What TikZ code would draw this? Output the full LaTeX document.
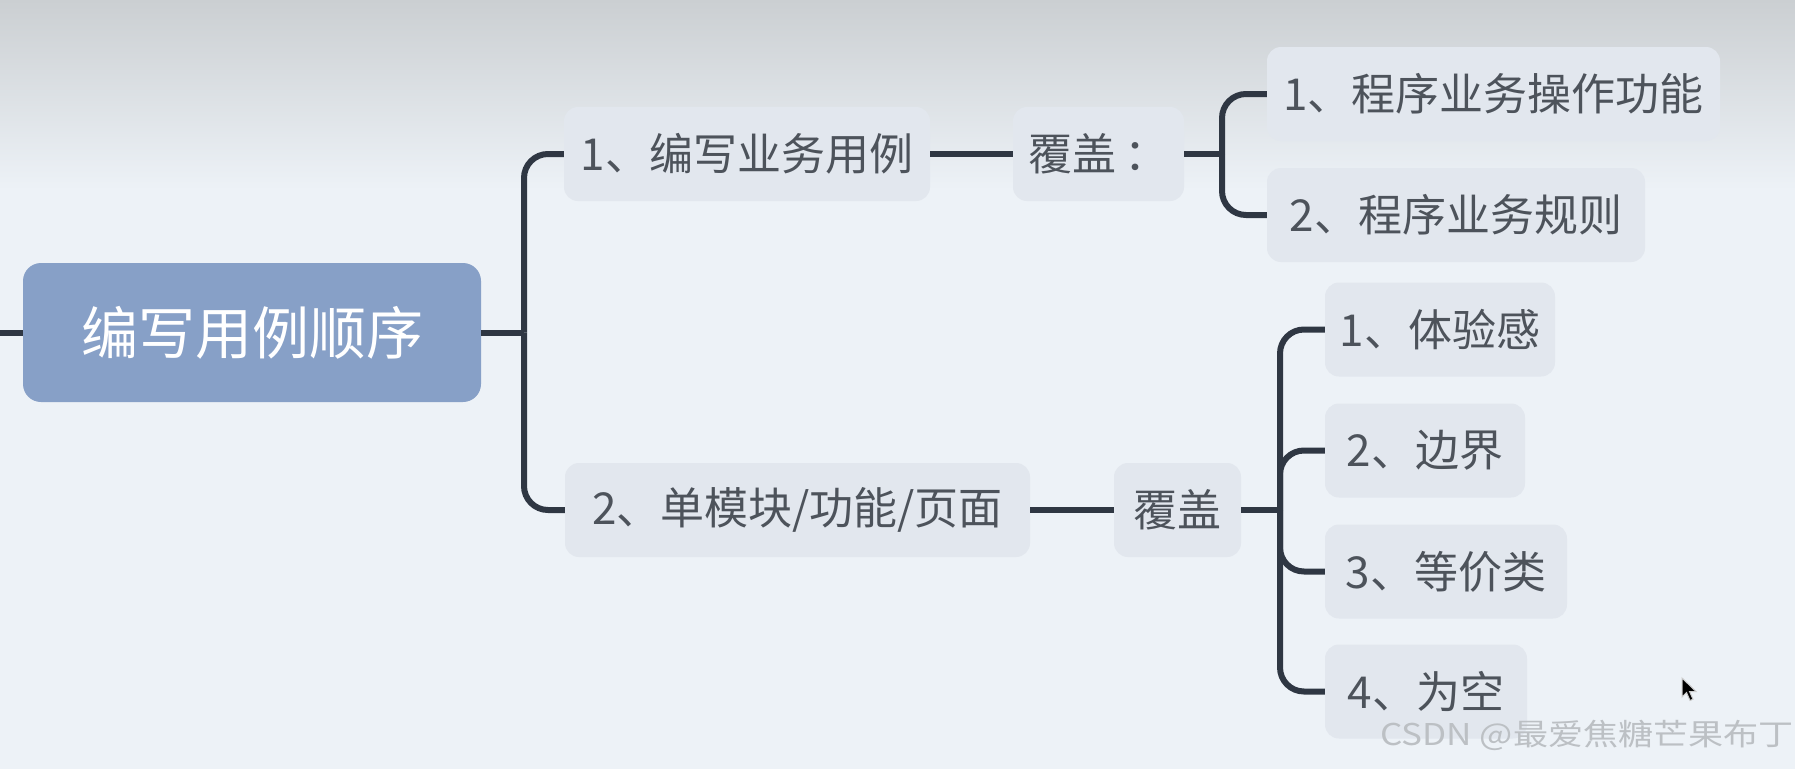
\documentclass[tikz,border=0pt]{standalone}
\usepackage{fontspec}
\setmainfont{Noto Sans CJK SC}
\usepackage{graphicx}
\definecolor{bgc}{HTML}{EDF2F7}
\definecolor{topc}{HTML}{CBCFD2}
\definecolor{boxc}{HTML}{E2E7EE}
\definecolor{rootc}{HTML}{87A0C7}
\definecolor{linec}{HTML}{2F3743}
\definecolor{txtc}{HTML}{4D535B}
\definecolor{wmc}{HTML}{BCC0C4}
\begin{document}
\begin{tikzpicture}[x=1pt,y=-1pt,
  box/.style={fill=boxc, rounded corners=14pt, inner sep=0pt, minimum height=94pt, text=txtc, font=\fontsize{44}{50}\selectfont},
  rootbox/.style={fill=rootc, rounded corners=18pt, inner sep=0pt, minimum width=458pt, minimum height=139pt, text=white, font=\fontsize{57}{64}\selectfont},
  conn/.style={draw=linec, line width=6pt},
  elbow/.style={conn, rounded corners=24pt}]
\fill[bgc] (0,0) rectangle (1795,769);
\shade[top color=topc, bottom color=bgc] (0,0) rectangle (1795,190);
\useasboundingbox (0,0) rectangle (1795,769);

\node[rootbox] (root) at (252,332.5) {编写用例顺序};
\node[box, minimum width=366pt] (n1) at (747,154) {1、编写业务用例};
\node[box, minimum width=171pt] (c1) at (1098.5,154) {覆盖\kern8pt：};
\node[box, minimum width=453pt] (a1) at (1493.5,94) {1、程序业务操作功能};
\node[box, minimum width=378pt] (a2) at (1456,215) {2、程序业务规则};

\node[box, minimum width=465pt] (n2) at (797.5,510) {2、单模块/功能/页面};
\node[box, minimum width=127pt] (c2) at (1177.5,510) {覆盖};
\node[box, minimum width=230pt] (b1) at (1440,329.5) {1、体验感};
\node[box, minimum width=200pt] (b2) at (1425,450.5) {2、边界};
\node[box, minimum width=242pt] (b3) at (1446,571.5) {3、等价类};
\node[box, minimum width=202pt] (b4) at (1426,691.5) {4、为空};

\coordinate (t0) at (0,332.5);
\coordinate (j0) at (524,332.5);
\coordinate (j1) at (1222,154);
\coordinate (j2) at (1280,510);

\draw[conn] (t0) -- (root.west);
\draw[conn] (root.east) -- (j0);
\draw[elbow] (j0) |- (n1.west);
\draw[elbow] (j0) |- (n2.west);
\draw[conn] (n1.east) -- (c1.west);
\draw[conn] (c1.east) -- (j1);
\draw[elbow] (j1) |- (a1.west);
\draw[elbow] (j1) |- (a2.west);
\draw[conn] (n2.east) -- (c2.west);
\draw[conn] (c2.east) -- (j2);
\foreach \b in {b1,b2,b3,b4} {\draw[elbow] (j2) |- (\b.west);}

\node[text=wmc, font=\fontsize{30}{34}\selectfont] (wm) at (1587,735) {\scalebox{1.17}[1]{CSDN @最爱焦糖芒果布丁}};
\fill[black, draw=gray!40, line width=1pt] (1682,678) -- ++(0,19) -- ++(4.5,-4.5) -- ++(3.5,8) -- ++(3,-1.3) -- ++(-3.5,-7.7) -- ++(6.5,0) -- cycle;
\end{tikzpicture}
\end{document}
